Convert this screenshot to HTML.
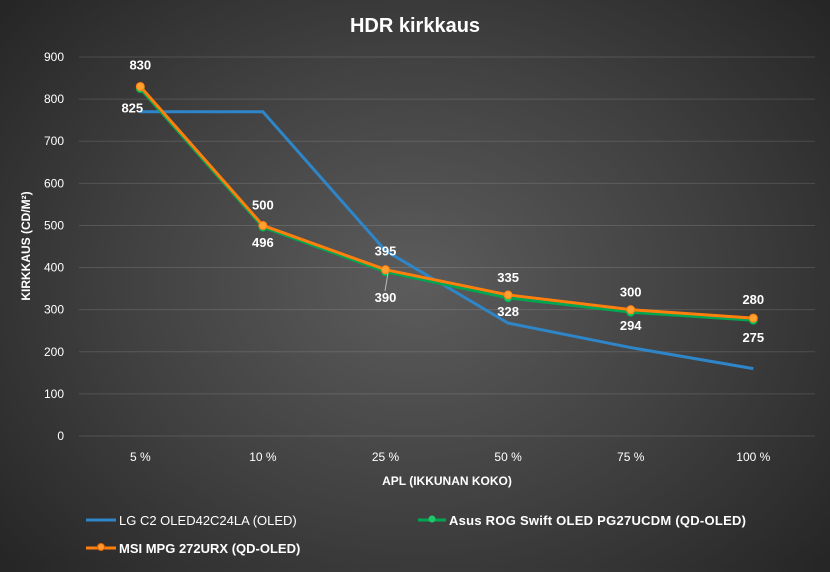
<!DOCTYPE html>
<html><head><meta charset="utf-8"><style>
html,body{margin:0;padding:0;}
body{width:830px;height:567px;overflow:hidden;background:radial-gradient(ellipse 65% 75% at 50% 50%,#5c5c5c 0%,#404040 55%,#262626 100%);font-family:"Liberation Sans",sans-serif;}
svg text{font-family:"Liberation Sans",sans-serif;}
</style></head><body>
<svg id="chart" width="830" height="567">
<text x="415" y="32" text-anchor="middle" fill="#fff" font-size="20" font-weight="bold">HDR kirkkaus</text>
<g id="grid"></g><g id="yticks"></g><g id="xticks"></g><g id="series"></g><g id="labels"></g>
<text transform="translate(30,246) rotate(-90)" text-anchor="middle" fill="#fff" font-size="12" font-weight="bold">KIRKKAUS (CD/M²)</text>
<text x="447" y="485" text-anchor="middle" fill="#fff" font-size="12" font-weight="bold">APL (IKKUNAN KOKO)</text>
<line x1="385" y1="291" x2="388" y2="273" stroke="#bbb" stroke-width="1"/>
<g>
<g><line x1="86" y1="520" x2="116" y2="520" stroke="#2e86c9" stroke-width="3"/><text x="119" y="525" fill="#fff" font-size="13">LG C2 OLED42C24LA (OLED)</text></g>
<g><line x1="418" y1="520" x2="446" y2="520" stroke="#00a651" stroke-width="3"/><circle cx="432" cy="519" r="3.5" fill="#1ec86a"/><text x="449" y="525" fill="#fff" font-size="13" font-weight="bold" textLength="297">Asus ROG Swift OLED PG27UCDM (QD-OLED)</text></g>
<g><line x1="86" y1="548" x2="116" y2="548" stroke="#ff7f0e" stroke-width="3"/><circle cx="101" cy="547" r="3.5" fill="#ff9a2e" stroke="#e06000"/><text x="119" y="553" fill="#fff" font-size="13" font-weight="bold">MSI MPG 272URX (QD-OLED)</text></g>
</g>
</svg>
<script>
const categories=["5 %","10 %","25 %","50 %","75 %","100 %"];
const lgValues=[770,770,440,268,210,160];
const asusValues=[825,496,390,328,294,275];
const msiValues=[830,500,395,335,300,280];
const yTicks=[0,100,200,300,400,500,600,700,800,900];
const NS="http://www.w3.org/2000/svg";
const x0=79,bw=122.6,yBase=436,yTop=57,yMax=900;
const X=i=>x0+bw*(i+0.5);
const Y=v=>yBase-(v/yMax)*(yBase-yTop);
function mk(t,a,p){const e=document.createElementNS(NS,t);for(const k in a)e.setAttribute(k,a[k]);document.getElementById(p).appendChild(e);return e;}
yTicks.forEach(v=>{
 const g=mk("line",{x1:x0,x2:815,y1:Y(v),y2:Y(v),stroke:"rgba(255,255,255,0.13)","stroke-width":1},"grid");
 
 
 const t=mk("text",{x:64,y:Y(v)+4,"text-anchor":"end",fill:"#fff","font-size":12},"yticks");t.textContent=v;
 
 
});
categories.forEach((c,i)=>{
 const t=mk("text",{x:X(i),y:461,"text-anchor":"middle",fill:"#fff","font-size":12},"xticks");t.textContent=c;
 
 
});
function series(vals,color,name,marker,mfill){
 const p=mk("polyline",{points:vals.map((v,i)=>X(i)+","+Y(v)).join(" "),fill:"none",stroke:color,"stroke-width":3,"stroke-linejoin":"round"},"series");
 
 
 if(marker)vals.forEach((v,i)=>{
  const c=mk("circle",{cx:X(i),cy:Y(v),r:4,fill:mfill,stroke:color,"stroke-width":1},"series");
  
  
 });
}
series(lgValues,"#2e86c9","lg",false);
series(asusValues,"#00a651","asus",true,"#1ec86a");
series(msiValues,"#ff7f0e","msi",true,"#ffa030");
const msiOff=[-17,-16,-14,-13,-13,-14];
const asusOff=[20,16,26,14,14,18];
msiValues.forEach((v,i)=>{
 const t=mk("text",{x:X(i),y:Y(v)+msiOff[i],"text-anchor":"middle",fill:"#fff","font-size":13,"font-weight":"bold"},"labels");t.textContent=v;
 
 
});
asusValues.forEach((v,i)=>{
 const dx=i===0?-8:0;
 const t=mk("text",{x:X(i)+dx,y:Y(v)+asusOff[i]+4,"text-anchor":"middle",fill:"#fff","font-size":13,"font-weight":"bold"},"labels");t.textContent=v;
 
 
});
</script>
</body></html>
